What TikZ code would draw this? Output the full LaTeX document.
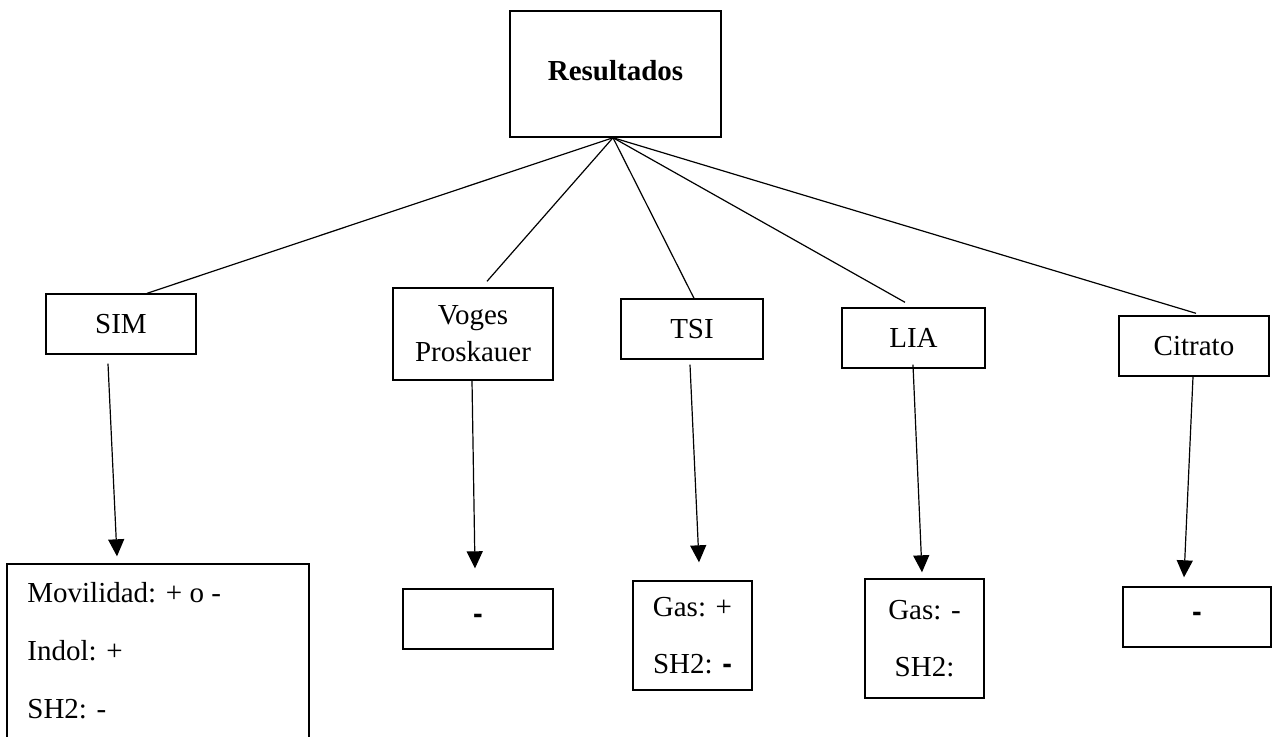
\documentclass[tikz,border=0pt]{standalone}
\usepackage{fontspec}
\setmainfont{Liberation Serif}
\newfontfamily\dashfont{Liberation Sans}
\usetikzlibrary{arrows.meta,calc}
\begin{document}
\begin{tikzpicture}[x=0.5pt,y=-0.5pt,
  box/.style={draw,line width=0.7pt,rectangle,inner sep=0pt,align=center,font=\fontsize{14.5}{18.5}\selectfont},
  twoline/.style={font=\fontsize{14.5}{28.5}\selectfont},
  txt/.style={inner sep=0pt,font=\fontsize{14.5}{18.5}\selectfont},
  link/.style={line width=0.6pt},
  arr/.style={line width=0.6pt,-{Triangle[length=8.5pt,width=8pt]}}]
\useasboundingbox (0,0) rectangle (1274,736);
% top box
\node[box,minimum width=105.5pt,minimum height=63pt] (res) at (615.5,74) {\raisebox{3.5pt}{\bfseries Resultados}};
% middle row
\node[box,minimum width=75pt,minimum height=30pt] (sim) at (121,324) {SIM};
\node[box,minimum width=80pt,minimum height=46pt] (vp) at (473,334) {Voges\\Proskauer};
\node[box,minimum width=71pt,minimum height=30pt] (tsi) at (692,329) {TSI};
\node[box,minimum width=71.5pt,minimum height=30pt] (lia) at (913.5,338) {LIA};
\node[box,minimum width=75pt,minimum height=30pt] (cit) at (1194,346) {Citrato};
% bottom row
\node[box,minimum width=151pt,minimum height=118pt] (simr) at (158,682) {};
\node[txt,anchor=base west] (simr1) at (27,602) {Movilidad: + o -};
\node[txt,anchor=base west] (simr2) at (27,660) {Indol: +};
\node[txt,anchor=base west] (simr3) at (27,718) {SH2: -};
\node[box,minimum width=75pt,minimum height=30pt] (vpr) at (478,619) {\dashfont\bfseries -};
\node[box,twoline,minimum width=59.5pt,minimum height=54.5pt] (tsir) at (692.5,635.5) {Gas: +\\SH2: {\dashfont\bfseries -}};
\node[box,twoline,minimum width=59.5pt,minimum height=59.5pt] (liar) at (924.5,638.5) {Gas: -\\SH2:};
\node[box,minimum width=74pt,minimum height=30pt] (citr) at (1197,617) {\dashfont\bfseries -};
% links from top box
\coordinate (apex) at ($(res.south)+(-2.5,0)$);
\draw[link] (apex) -- ($(sim.north)+(26,0)$);
\draw[link] (apex) -- ($(vp.north)+(14,-6)$);
\draw[link] (apex) -- ($(tsi.north)+(2,0)$);
\draw[link] (apex) -- ($(lia.north)+(-8.5,-5)$);
\draw[link] (apex) -- ($(cit.north)+(2,-2)$);
% arrows down
\draw[arr] ($(sim.south)+(-13,9)$) -- ($(simr.north)+(-41,-7)$);
\draw[arr] ($(vp.south)+(-1,0)$) -- ($(vpr.north)+(-3,-20)$);
\draw[arr] ($(tsi.south)+(-2,5)$) -- ($(tsir.north)+(6.5,-18)$);
\draw[arr] ($(lia.south)+(-0.5,-4)$) -- ($(liar.north)+(-2.5,-6)$);
\draw[arr] ($(cit.south)+(-1,0)$) -- ($(citr.north)+(-13,-9)$);
\end{tikzpicture}
\end{document}
